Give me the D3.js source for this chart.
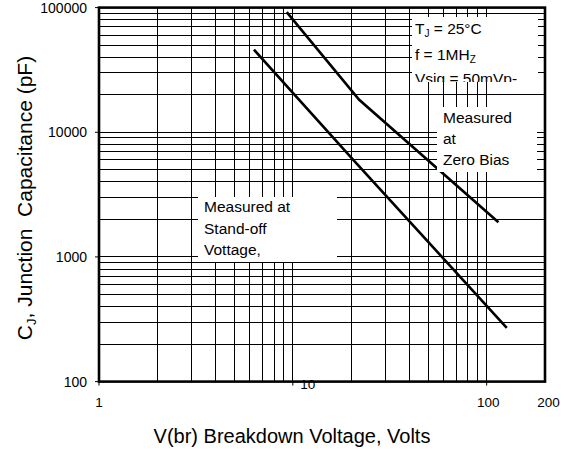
<!DOCTYPE html>
<html>
<head>
<meta charset="utf-8">
<script src="https://cdnjs.cloudflare.com/ajax/libs/d3/7.8.5/d3.min.js"></script>
<style>
    body { margin: 0; background: #fff; }
    text { font-family: "Liberation Sans", Arial, sans-serif; fill: #000; }
</style>
</head>
<body>
<div id="chart"></div>
<script>

var zeroBiasVolts = [9.3, 22, 115],
    zeroBiasCap = [92000, 18200, 1900],
    standoffVolts = [6.3, 20.5, 127],
    standoffCap = [46000, 6000, 270];

var xTickValues = [1, 10, 100, 200],
    yTickValues = [100, 1000, 10000, 100000];

var svgWidth = 569,
    svgHeight = 452,
    margins = { top: 7.6, right: 24, bottom: 70.4, left: 99 },
    width = svgWidth - margins.left - margins.right,
    height = svgHeight - margins.top - margins.bottom;

var xScale = d3.scaleLog()
    .domain([1, 200])
    .range([0, width])

var yScale = d3.scaleLog()
    .domain([100, 100000])
    .range([height, 0])

var svg = d3.select("#chart")
    .append("svg")
    .attr("width", svgWidth)
    .attr("height", svgHeight)

var plot = svg.append("g")
    .attr("transform", "translate(" + margins.left + ", " + margins.top + ")")

// grid
plot.append("g")
    .selectAll("line")
    .data(xScale.ticks())
    .enter()
    .append("line")
    .attr("x1", function (d) { return xScale(d); })
    .attr("x2", function (d) { return xScale(d); })
    .attr("y1", 0)
    .attr("y2", height)
    .attr("stroke", "#000")
    .attr("stroke-width", 1)
    .attr("shape-rendering", "crispEdges")

plot.append("g")
    .selectAll("line")
    .data(yScale.ticks())
    .enter()
    .append("line")
    .attr("x1", 0)
    .attr("x2", width)
    .attr("y1", function (d) { return yScale(d); })
    .attr("y2", function (d) { return yScale(d); })
    .attr("stroke", "#000")
    .attr("stroke-width", 1)
    .attr("shape-rendering", "crispEdges")

// note boxes, they hide the grid under them
var notes = [
    { x: 412, y: 17, w: 126, h: 65, tx: 415, lines: [
        { base: 36.5, parts: [["T", 0], ["J", 1], [" = 25°C", 0]] },
        { base: 63, parts: [["f = 1MH", 0], ["Z", 1]] },
        { base: 86.5, parts: [["Vsig = 50mVp-", 0]] }] },
    { x: 437, y: 107, w: 100, h: 65, tx: 443, lines: [
        { base: 126, parts: [["Measured", 0]] },
        { base: 146.5, parts: [["at", 0]] },
        { base: 167.5, parts: [["Zero Bias", 0]] }] },
    { x: 198, y: 197, w: 139, h: 65, tx: 204, lines: [
        { base: 215, parts: [["Measured at", 0]] },
        { base: 236.5, parts: [["Stand-off", 0]] },
        { base: 258, parts: [["Vottage,", 0]] }] }
];

var defs = svg.append("defs")

notes.forEach(function (n, i) {
    defs.append("clipPath")
        .attr("id", "clip" + i)
        .append("rect")
        .attr("x", n.x)
        .attr("y", n.y)
        .attr("width", n.w)
        .attr("height", n.h)

    var g = svg.append("g")
        .attr("clip-path", "url(#clip" + i + ")")

    g.append("rect")
        .attr("x", n.x)
        .attr("y", n.y)
        .attr("width", n.w)
        .attr("height", n.h)
        .style("fill", "#fff")

    n.lines.forEach(function (l) {
        var t = g.append("text")
            .attr("x", n.tx)
            .attr("y", l.base)
            .style("font-size", "15.5px")
        l.parts.forEach(function (p) {
            t.append("tspan")
                .attr("dy", p[1] ? 3 : (t.selectAll("tspan").size() > 0 ? -3 : 0))
                .style("font-size", p[1] ? "10px" : "15.5px")
                .text(p[0])
        })
    })
})

// x tick labels (the "10" sits on the axis line)
svg.append("g")
    .selectAll("text")
    .data(xTickValues)
    .enter()
    .append("text")
    .attr("x", function (d) {
        var off = d == 10 ? 15 : (d == 200 ? 3.5 : (d == 100 ? 1.5 : 0));
        return margins.left + xScale(d) + off;
    })
    .attr("y", function (d) { return d == 10 ? 388.5 : 407; })
    .attr("text-anchor", "middle")
    .style("font-size", "13.5px")
    .text(function (d) { return d; })

// curves
var line = d3.line()
    .x(function (d) { return xScale(d[0]); })
    .y(function (d) { return yScale(d[1]); })

plot.append("path")
    .datum(d3.zip(zeroBiasVolts, zeroBiasCap))
    .attr("d", line)
    .attr("fill", "none")
    .attr("stroke", "#000")
    .attr("stroke-width", 2.6)

plot.append("path")
    .datum(d3.zip(standoffVolts, standoffCap))
    .attr("d", line)
    .attr("fill", "none")
    .attr("stroke", "#000")
    .attr("stroke-width", 2.6)

// frame
plot.append("rect")
    .attr("x", 0)
    .attr("y", 0)
    .attr("width", width)
    .attr("height", height)
    .attr("fill", "none")
    .attr("stroke", "#000")
    .attr("stroke-width", 2.6)

// ticks
plot.append("g")
    .selectAll("line")
    .data(yTickValues)
    .enter()
    .append("line")
    .attr("x1", -4)
    .attr("x2", 0)
    .attr("y1", function (d) { return yScale(d); })
    .attr("y2", function (d) { return yScale(d); })
    .attr("stroke", "#000")

plot.append("g")
    .selectAll("line")
    .data(xTickValues.slice(0, 3))
    .enter()
    .append("line")
    .attr("x1", function (d) { return xScale(d); })
    .attr("x2", function (d) { return xScale(d); })
    .attr("y1", height)
    .attr("y2", height + 4)
    .attr("stroke", "#000")

svg.append("g")
    .selectAll("text")
    .data(yTickValues)
    .enter()
    .append("text")
    .attr("x", 87)
    .attr("y", function (d) { return margins.top + yScale(d); })
    .attr("dy", "0.35em")
    .attr("text-anchor", "end")
    .style("font-size", "14px")
    .text(function (d) { return d; })

// axis titles
svg.append("text")
    .attr("x", 292)
    .attr("y", 443)
    .attr("text-anchor", "middle")
    .style("font-size", "20px")
    .text("V(br) Breakdown Voltage, Volts")

var yTitle = svg.append("text")
    .attr("transform", "translate(32, 198) rotate(-90)")
    .attr("text-anchor", "middle")
    .style("font-size", "21px")
    .style("white-space", "pre")

yTitle.append("tspan").text("C")
yTitle.append("tspan").attr("dy", 4).style("font-size", "13px").text("J")
yTitle.append("tspan").attr("dy", -4).text(", Junction  Capacitance (pF)")

</script>
</body>
</html>
